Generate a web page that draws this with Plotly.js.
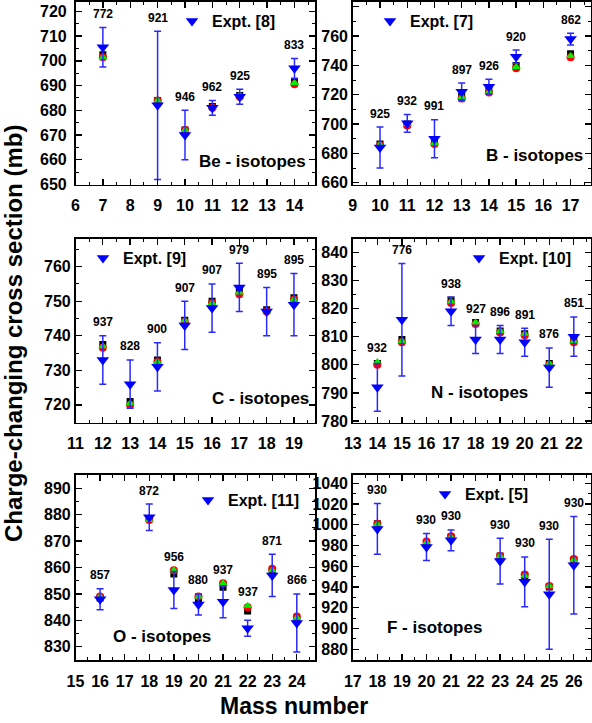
<!DOCTYPE html>
<html><head><meta charset="utf-8">
<script src="https://cdn.plot.ly/plotly-3.0.1.min.js"></script>
<style>html,body{margin:0;padding:0;background:#fff}#chart{width:592px;height:723px}</style>
</head><body><div id="chart"></div>
<script>
// ---------- data ----------
// Be isotopes, Expt. [8]
const beA      = [7, 9, 10, 11, 12, 14];
const beEnergy = [772, 921, 946, 962, 925, 833];
const beExpt   = [705.5, 682, 670, 681, 685.5, 697];
const beErr    = [8, 30, 10, 3, 3, 4];
const beTh1    = [702.5, 684, 672, 681.5, 686, 691.5];
const beTh2    = [701.5, 684, 672, 681, 685.5, 690.5];
const beTh3    = [701.5, 684, 672, 681, 686, 691];
// B isotopes, Expt. [7]
const bA      = [10, 11, 12, 13, 14, 15, 17];
const bEnergy = [925, 932, 991, 897, 926, 920, 862];
const bExpt   = [684, 700.5, 690, 722, 725.5, 746, 758];
const bErr    = [14, 6, 13, 6, 5, 4.5, 4];
const bTh1    = [686.5, 700, 688, 719, 723, 740, 748];
const bTh2    = [685.5, 699, 686.5, 717.5, 721.5, 738, 745.5];
const bTh3    = [686, 700, 687, 718.5, 722, 739, 746.5];
// C isotopes, Expt. [9]
const cA      = [12, 13, 14, 15, 16, 17, 18, 19];
const cEnergy = [937, 828, 900, 907, 907, 979, 895, 895];
const cExpt   = [733, 726, 731, 743, 748, 754, 747, 749];
const cErr    = [7, 7, 7, 7, 7, 7, 7, 9];
const cTh1    = [737.5, 721, 733, 744.5, 750, 753, 747.5, 751];
const cTh2    = [736.5, 720, 732.5, 744, 749.5, 752, 747, 750.5];
const cTh3    = [737, 720.5, 732.5, 744.5, 749.5, 752.5, 747, 750.5];
// N isotopes, Expt. [10]
const nA      = [14, 15, 17, 18, 19, 20, 21, 22];
const nEnergy = [932, 776, 938, 927, 896, 891, 876, 851];
const nExpt   = [792, 816, 819, 809, 809, 808, 799, 810];
const nErr    = [8.5, 20, 5, 5, 5, 5, 7, 7];
const nTh1    = [800.5, 809, 823, 815, 812, 811, 800.5, 809];
const nTh2    = [800, 808, 822, 814.5, 811.5, 810.5, 800, 808];
const nTh3    = [801, 808.5, 822.5, 815, 812, 811, 800.5, 808.5];
// O isotopes, Expt. [11]
const oA      = [16, 18, 19, 20, 21, 22, 23, 24];
const oEnergy = [857, 872, 956, 880, 937, 937, 871, 866];
const oExpt   = [848, 879, 851.5, 846, 847, 837, 857, 839];
const oErr    = [4, 5, 7, 4, 6, 3, 8, 11];
const oTh1    = [848.5, 878.5, 857.5, 847.5, 852.5, 843.5, 858.5, 840.5];
const oTh2    = [849, 878, 859, 849, 854, 845, 859.5, 841.5];
const oTh3    = [849, 878, 859, 849, 854, 845.5, 859, 841];
// F isotopes, Expt. [5]
const fA      = [18, 20, 21, 23, 24, 25, 26];
const fEnergy = [930, 930, 930, 930, 930, 930, 930];
const fExpt   = [996, 978.5, 985, 965, 945, 933, 961];
const fErr    = [24.5, 13, 10, 22, 24, 53, 47];
const fTh1    = [1001, 983, 988, 970, 951, 940, 966];
const fTh2    = [1001, 984, 989, 970, 952, 941, 967];
const fTh3    = [1000.5, 983, 988, 970, 951, 941, 966];

// ---------- layout config ----------
const W = 592, H = 723;
const FONT = 'Liberation Sans, Arial, Helvetica, sans-serif';
const NARROW = 'Liberation Sans Narrow, Arial Narrow, Liberation Sans, Arial, sans-serif';
const colL = [75.5, 315], colR = [352.8, 591];
const row1 = [1.5, 184.5], row2 = [239, 422.5], row3 = [475, 660];

const panels = [
  {label:'Be - isotopes', ref:'Expt. [8]', A:beA, E:beEnergy, expt:beExpt, err:beErr, t1:beTh1, t2:beTh2, t3:beTh3,
   xr:[6,14.75], yr:[650,724], dy:10, mdy:5, col:colL, row:row1, leg:[172,21], lab:[252,161], ystand:4, xfont:FONT},
  {label:'B - isotopes', ref:'Expt. [7]', A:bA, E:bEnergy, expt:bExpt, err:bErr, t1:bTh1, t2:bTh2, t3:bTh3,
   xr:[9,17.75], yr:[658.8,783.6], dy:20, mdy:10, col:colR, row:row1, leg:[370,21], lab:[534,155], ystand:0, xfont:FONT},
  {label:'C - isotopes', ref:'Expt. [9]', A:cA, E:cEnergy, expt:cExpt, err:cErr, t1:cTh1, t2:cTh2, t3:cTh3,
   xr:[11,19.77], yr:[714.9,768], dy:10, mdy:5, col:colL, row:row2, leg:[83,258], lab:[260,398], ystand:0, xfont:FONT},
  {label:'N - isotopes', ref:'Expt. [10]', A:nA, E:nEnergy, expt:nExpt, err:nErr, t1:nTh1, t2:nTh2, t3:nTh3,
   xr:[13,22.7], yr:[779.5,844.7], dy:10, mdy:5, col:colR, row:row2, leg:[459,258], lab:[479,392], ystand:0, xfont:FONT},
  {label:'O - isotopes', ref:'Expt. [11]', A:oA, E:oEnergy, expt:oExpt, err:oErr, t1:oTh1, t2:oTh2, t3:oTh3,
   xr:[15,24.74], yr:[825,895], dy:10, mdy:5, col:colL, row:row3, leg:[188,500], lab:[162,636], ystand:0, xfont:NARROW},
  {label:'F - isotopes', ref:'Expt. [5]', A:fA, E:fEnergy, expt:fExpt, err:fErr, t1:fTh1, t2:fTh2, t3:fTh3,
   xr:[17,26.7], yr:[869.7,1048], dy:20, mdy:10, col:colR, row:row3, leg:[425,494], lab:[434,627], ystand:0, xfont:NARROW}
];

const traces = [];
const annotations = [];
const layout = {
  width: W, height: H,
  margin: {l:0, r:0, t:0, b:0},
  paper_bgcolor: '#fff', plot_bgcolor: '#fff',
  showlegend: true,
  font: {family: FONT, color: '#000'}
};

panels.forEach((p, i) => {
  const s = i === 0 ? '' : String(i + 1);
  const xa = 'x' + s, ya = 'y' + s;
  const legName = i === 0 ? 'legend' : 'legend' + (i + 1);
  const axisCommon = {
    showline: true, linecolor: '#000', linewidth: 1.6, mirror: 'ticks',
    ticks: 'inside', ticklen: 6, tickwidth: 1.3, tickcolor: '#000',
    showgrid: false, zeroline: false, fixedrange: true
  };
  layout['xaxis' + s] = Object.assign({}, axisCommon, {
    domain: [p.col[0] / W, p.col[1] / W], range: p.xr, anchor: ya,
    dtick: 1, tick0: 0, ticklabelstandoff: 6,
    tickfont: {family: p.xfont, size: 16, weight: 'bold', color: '#000'},
    minor: {dtick: 0.5, tick0: 0, ticks: 'inside', ticklen: 3, tickwidth: 1, tickcolor: '#000', showgrid: false}
  });
  layout['yaxis' + s] = Object.assign({}, axisCommon, {
    domain: [1 - p.row[1] / H, 1 - p.row[0] / H], range: p.yr, anchor: xa,
    dtick: p.dy, tick0: 0, ticklabelstandoff: p.ystand,
    tickfont: {family: FONT, size: 16, weight: 'bold', color: '#000'},
    minor: {dtick: p.mdy, tick0: 0, ticks: 'inside', ticklen: 3, tickwidth: 1, tickcolor: '#000', showgrid: false}
  });
  layout[legName] = {
    x: p.leg[0] / W, y: 1 - p.leg[1] / H, xref: 'paper', yref: 'paper',
    xanchor: 'left', yanchor: 'middle', bgcolor: 'rgba(0,0,0,0)', borderwidth: 0,
    font: {family: FONT, size: 16, weight: 'bold', color: '#000'}, itemwidth: 30
  };

  traces.push({type:'scatter', mode:'markers', x:p.A, y:p.t1, xaxis:xa, yaxis:ya, showlegend:false,
    marker:{symbol:'square', size:7, color:'#000'}, hoverinfo:'skip'});
  traces.push({type:'scatter', mode:'markers', x:p.A, y:p.t2, xaxis:xa, yaxis:ya, showlegend:false,
    marker:{symbol:'circle', size:8, color:'#ff0000'}, hoverinfo:'skip'});
  traces.push({type:'scatter', mode:'markers', x:p.A, y:p.t3, xaxis:xa, yaxis:ya, showlegend:false,
    marker:{symbol:'triangle-up', size:8, color:'#00ee00'}, hoverinfo:'skip'});
  traces.push({type:'scatter', mode:'markers', x:p.A, y:p.expt, xaxis:xa, yaxis:ya,
    name: p.ref, legend: legName, showlegend: true,
    marker:{symbol:'triangle-down', size:11, color:'#0000ff'},
    error_y:{type:'data', array:p.err, visible:true, color:'#2a2aff', thickness:1.5, width:3.5},
    hoverinfo:'skip'});

  // energy labels above each point
  p.A.forEach((a, k) => {
    annotations.push({
      xref: xa, yref: ya, x: a, y: Math.max(p.expt[k] + p.err[k], p.t3[k]),
      text: String(p.E[k]), showarrow: false, xanchor: 'center', yanchor: 'middle', yshift: 13.5,
      font: {family: FONT, size: 12, weight: 'bold', color: '#000'}
    });
  });
  // panel label
  annotations.push({
    xref: 'paper', yref: 'paper', x: p.lab[0] / W, y: 1 - p.lab[1] / H,
    text: p.label, showarrow: false, xanchor: 'center', yanchor: 'middle',
    font: {family: FONT, size: 17, weight: 'bold', color: '#000'}
  });
});

// shared axis titles
annotations.push({
  xref: 'paper', yref: 'paper', x: 294 / W, y: 1 - 706 / H,
  text: 'Mass number', showarrow: false, xanchor: 'center', yanchor: 'middle',
  font: {family: FONT, size: 23, weight: 'bold', color: '#000'}
});
annotations.push({
  xref: 'paper', yref: 'paper', x: 13 / W, y: 1 - 334 / H,
  text: 'Charge-changing cross section (mb)', showarrow: false, textangle: -90,
  xanchor: 'center', yanchor: 'middle', borderpad: 0,
  font: {family: FONT, size: 24, weight: 'bold', color: '#000'}
});
layout.annotations = annotations;

Plotly.newPlot('chart', traces, layout, {displayModeBar: false, staticPlot: true});
</script>
</body></html>
